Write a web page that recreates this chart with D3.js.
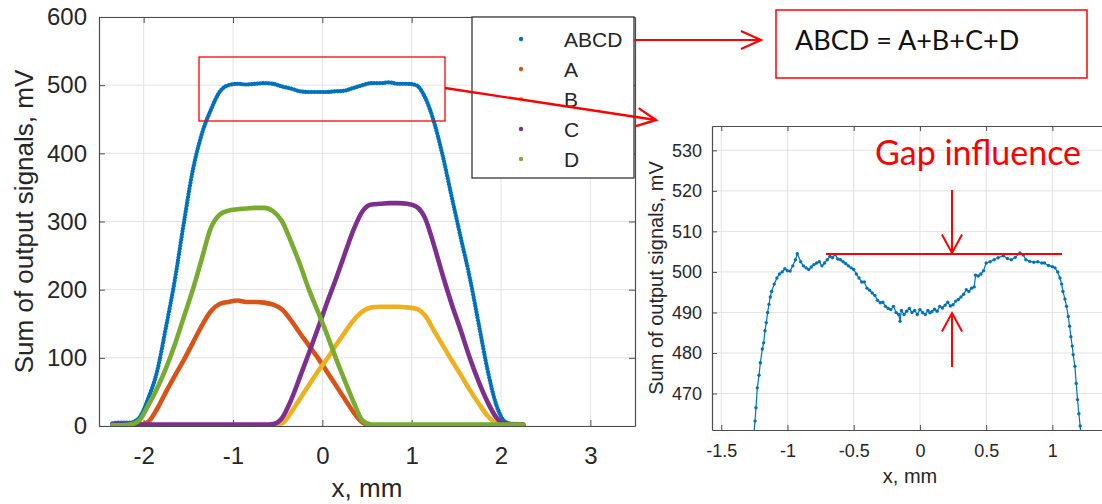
<!DOCTYPE html>
<html>
<head>
<meta charset="utf-8">
<script src="https://cdn.jsdelivr.net/npm/d3@7"></script>
<style>
  body { margin: 0; background: #fff; }
  svg { display: block; }
</style>
</head>
<body>
<div id="chart"></div>
<script>
// ---- data ----
const mainX = [-2.35, -2.25, -2.15, -2.05, -1.95, -1.85, -1.75, -1.65, -1.55, -1.45, -1.35, -1.25,
  -1.15, -1.05, -0.95, -0.85, -0.75, -0.65, -0.55, -0.45, -0.35, -0.25, -0.15, -0.05,
  0.05, 0.15, 0.25, 0.35, 0.45, 0.55, 0.65, 0.75, 0.85, 0.95, 1.05, 1.15,
  1.25, 1.35, 1.45, 1.55, 1.65, 1.75, 1.85, 1.95, 2.05, 2.15, 2.25];

const sumABCD = [4, 5, 5, 12, 40, 80, 145, 215, 298, 375, 428, 463,
  490, 500, 502, 501, 502, 503, 502, 498, 495, 491, 490, 490,
  490, 491, 492, 496, 500, 503, 503, 504, 502, 502, 500, 482,
  446, 395, 335, 276, 218, 150, 82, 30, 6, 3, 3];
const sigA = [1, 1, 1, 2, 6, 25, 50, 74, 97, 122, 147, 168,
  179, 182, 184, 182, 182, 181, 178, 171, 155, 136, 118, 100,
  80, 60, 40, 20, 5, 1, 1, 1, 1, 1, 1, 1,
  1, 1, 1, 1, 1, 1, 1, 1, 1, 1, 1];
const sigB = [1, 1, 1, 1, 1, 1, 1, 1, 1, 1, 1, 1,
  1, 1, 1, 1, 1, 1, 1, 4, 20, 40, 60, 80,
  98, 118, 137, 155, 168, 174, 175, 175, 175, 174, 172, 162,
  140, 118, 96, 75, 53, 33, 15, 4, 2, 2, 2];
const sigC = [2, 2, 2, 2, 2, 2, 2, 2, 2, 2, 2, 2,
  2, 2, 2, 2, 2, 2, 3, 12, 38, 72, 107, 143,
  180, 215, 252, 288, 315, 325, 326, 327, 327, 326, 322, 305,
  265, 220, 178, 140, 100, 65, 35, 12, 3, 2, 2];
const sigD = [1, 1, 2, 8, 30, 55, 85, 120, 160, 200, 245, 290,
  310, 316, 318, 319, 320, 320, 315, 300, 270, 237, 200, 168,
  135, 100, 67, 35, 8, 2, 2, 2, 2, 2, 2, 2,
  2, 2, 2, 2, 2, 2, 2, 2, 2, 2, 2];

const seriesNames = ["ABCD", "A", "B", "C", "D"];
const seriesColors = ["#0072BD", "#D95319", "#EDB120", "#7E2F8E", "#77AC30"];
const mainXTicks = [-2, -1, 0, 1, 2, 3];
const mainYTicks = [0, 100, 200, 300, 400, 500, 600];

// zoomed plateau of ABCD
const insetX = [-1.26, -1.245, -1.238, -1.228, -1.215, -1.205, -1.19, -1.18, -1.17, -1.16, -1.15, -1.14,
  -1.13, -1.12, -1.10, -1.08, -1.06, -1.04, -1.02, -1.0, -0.98, -0.96, -0.94, -0.926,
  -0.90, -0.88, -0.86, -0.84, -0.82, -0.80, -0.78, -0.76, -0.74, -0.72, -0.70, -0.68,
  -0.66, -0.64, -0.62, -0.60, -0.58, -0.56, -0.54, -0.52, -0.50, -0.48, -0.46, -0.44,
  -0.42, -0.40, -0.38, -0.36, -0.34, -0.32, -0.30, -0.28, -0.26, -0.24, -0.22, -0.20,
  -0.18, -0.16, -0.15, -0.14, -0.12, -0.10, -0.08, -0.06, -0.04, -0.02, 0.0, 0.02,
  0.04, 0.06, 0.075, 0.09, 0.11, 0.13, 0.15, 0.17, 0.19, 0.21, 0.23, 0.25,
  0.27, 0.29, 0.31, 0.33, 0.35, 0.37, 0.39, 0.41, 0.42, 0.44, 0.46, 0.48,
  0.50, 0.53, 0.56, 0.59, 0.63, 0.66, 0.69, 0.72, 0.755, 0.78, 0.80, 0.83,
  0.86, 0.89, 0.92, 0.94, 0.97, 1.00, 1.02, 1.04, 1.057, 1.07, 1.08, 1.095,
  1.107, 1.12, 1.13, 1.14, 1.15, 1.157, 1.17, 1.18, 1.19, 1.20, 1.21, 1.22];
const insetY = [458, 463.2, 466.5, 471.4, 474.5, 477.6, 481, 482.5, 485.5, 487.5, 490, 492,
  493.8, 495.2, 497, 498.5, 499.5, 500, 500.8, 500.3, 500.2, 501.5, 503, 504.5,
  502.5, 501.5, 501, 500.6, 501.2, 501.8, 502.2, 502.5, 501.5, 502.2, 503, 503.8,
  503.5, 504.3, 503.2, 503, 502.5, 502, 501.5, 501, 500.6, 499.5, 498.5, 497.5,
  497.5, 496, 495.5, 494.8, 494.2, 493, 492.4, 492.5, 491.5, 491, 490.7, 491.5,
  490, 489.5, 487.8, 490.5, 489.5, 490.3, 491, 490, 490.5, 489.5, 490.7, 490,
  489.5, 490.5, 489.9, 490.2, 490.8, 490.3, 491.5, 491.1, 491.8, 492.5, 491.6, 491.9,
  492.8, 493.2, 493.8, 494.5, 495.6, 495.2, 496, 496.3, 499.2, 499, 499.5, 500.3,
  502.2, 502.5, 503, 503.5, 504, 503.3, 503, 503.6, 504.7, 504.2, 503, 502.6,
  502.4, 502.5, 502.2, 502.2, 501.6, 501.3, 501, 500, 498.5, 497, 495.2, 493.3,
  491.5, 489, 486.6, 484, 481.7, 479.6, 476.7, 472.5, 468.5, 465, 462, 458];
const insetXTicks = [-1.5, -1, -0.5, 0, 0.5, 1];
const insetYTicks = [470, 480, 490, 500, 510, 520, 530];

// ---- drawing ----
const W = 1102, H = 504;
const FONT = "'Liberation Sans', Arial, Helvetica, sans-serif";
const TXT = "#262626";
const GRID = "#e3e3e3";
const RED = "#ff0000";

const svg = d3.select("#chart").append("svg")
  .attr("width", W).attr("height", H)
  .style("font-family", FONT);

function drawAxesFrame(g, x, y, box, xTicks, yTicks, opt) {
  // grid
  g.append("g").selectAll("line").data(xTicks).join("line")
    .attr("x1", d => x(d)).attr("x2", d => x(d))
    .attr("y1", box.top).attr("y2", box.bottom)
    .attr("stroke", GRID).attr("stroke-width", 1);
  g.append("g").selectAll("line").data(yTicks).join("line")
    .attr("x1", box.left).attr("x2", box.right)
    .attr("y1", d => y(d)).attr("y2", d => y(d))
    .attr("stroke", GRID).attr("stroke-width", 1);

  const fmt = d => String(d);
  const bottom = g.append("g").attr("transform", `translate(0,${box.bottom})`)
    .call(d3.axisBottom(x).tickValues(xTicks).tickFormat(fmt)
      .tickSize(-opt.tick).tickSizeOuter(0).tickPadding(opt.xPad));
  const top = g.append("g").attr("transform", `translate(0,${box.top})`)
    .call(d3.axisTop(x).tickValues(xTicks).tickFormat("")
      .tickSize(-opt.tick).tickSizeOuter(0));
  const left = g.append("g").attr("transform", `translate(${box.left},0)`)
    .call(d3.axisLeft(y).tickValues(yTicks).tickFormat(fmt)
      .tickSize(-opt.tick).tickSizeOuter(0).tickPadding(opt.yPad));
  const right = g.append("g").attr("transform", `translate(${box.right},0)`)
    .call(d3.axisRight(y).tickValues(yTicks).tickFormat("")
      .tickSize(-opt.tick).tickSizeOuter(0));

  [bottom, top, left, right].forEach(a => {
    a.select(".domain").attr("stroke", "#4d4d4d").attr("stroke-width", 1.2);
    a.selectAll(".tick line").attr("stroke", "#4d4d4d");
    a.selectAll("text").attr("fill", TXT).attr("font-size", opt.font)
      .attr("font-family", FONT);
  });
}

// main chart
const mBox = { left: 99, right: 635, top: 17, bottom: 426 };
const mx = d3.scaleLinear().domain([-2.5, 3.5]).range([mBox.left, mBox.right]);
const my = d3.scaleLinear().domain([0, 600]).range([mBox.bottom, mBox.top]);
const mainG = svg.append("g");

drawAxesFrame(mainG, mx, my, mBox, mainXTicks, mainYTicks,
  { tick: 6, xPad: 21, yPad: 12, font: 24 });

svg.append("clipPath").attr("id", "mclip").append("rect")
  .attr("x", mBox.left).attr("y", mBox.top)
  .attr("width", mBox.right - mBox.left).attr("height", mBox.bottom - mBox.top);

const mainSeries = [sumABCD, sigA, sigB, sigC, sigD];
const mline = d3.line().x((d, i) => mx(mainX[i])).y(d => my(d)).curve(d3.curveMonotoneX);
const mPlot = mainG.append("g").attr("clip-path", "url(#mclip)");
// ABCD is a dense scatter: thin core line + chain of round dots
mPlot.append("path").attr("d", mline(sumABCD))
  .attr("fill", "none").attr("stroke", seriesColors[0]).attr("stroke-width", 2.4);
mPlot.append("path").attr("d", mline(sumABCD))
  .attr("fill", "none").attr("stroke", seriesColors[0]).attr("stroke-width", 4.2)
  .attr("stroke-linecap", "round").attr("stroke-dasharray", "0.1 2.8");
mPlot.selectAll("path.sig").data(mainSeries.slice(1)).join("path")
  .attr("class", "sig")
  .attr("d", d => mline(d))
  .attr("fill", "none")
  .attr("stroke", (d, i) => seriesColors[i + 1])
  .attr("stroke-width", 4.6)
  .attr("stroke-linejoin", "round").attr("stroke-linecap", "round");

// axis labels
mainG.append("text").attr("x", (mBox.left + mBox.right) / 2).attr("y", 497)
  .attr("text-anchor", "middle").attr("font-size", 26).attr("fill", TXT)
  .text("x, mm");
mainG.append("text")
  .attr("transform", `translate(33,${(mBox.top + mBox.bottom) / 2}) rotate(-90)`)
  .attr("text-anchor", "middle").attr("font-size", 26).attr("fill", TXT)
  .text("Sum of output signals, mV");

// legend
const leg = mainG.append("g");
leg.append("rect").attr("x", 472).attr("y", 17).attr("width", 162).attr("height", 161)
  .attr("fill", "#fff").attr("stroke", "#262626").attr("stroke-width", 1.2);
const legRows = leg.selectAll("g.row").data(seriesNames).join("g")
  .attr("class", "row").attr("transform", (d, i) => `translate(0,${39 + i * 30})`);
legRows.append("circle").attr("cx", 521).attr("cy", 0).attr("r", 2.2)
  .attr("fill", (d, i) => seriesColors[i]);
legRows.append("text").attr("x", 564).attr("y", 0).attr("dy", "0.36em")
  .attr("font-size", 21).attr("fill", TXT).text(d => d);

// inset chart
const iBox = { left: 712, right: 1108, top: 126, bottom: 430 };
const ix = d3.scaleLinear().domain([-1.57, 1.42]).range([iBox.left, iBox.right]);
const iy = d3.scaleLinear().domain([461, 536]).range([iBox.bottom, iBox.top]);
const insetG = svg.append("g");

drawAxesFrame(insetG, ix, iy, iBox, insetXTicks, insetYTicks,
  { tick: 5, xPad: 14, yPad: 10, font: 18 });

svg.append("clipPath").attr("id", "iclip").append("rect")
  .attr("x", iBox.left).attr("y", iBox.top)
  .attr("width", iBox.right - iBox.left).attr("height", iBox.bottom - iBox.top);

const iline = d3.line().x((d, i) => ix(insetX[i])).y(d => iy(d));
const iPlot = insetG.append("g").attr("clip-path", "url(#iclip)");
iPlot.append("path").attr("d", iline(insetY))
  .attr("fill", "none").attr("stroke", "#0072BD").attr("stroke-width", 1.2);
iPlot.selectAll("circle").data(insetY).join("circle")
  .attr("cx", (d, i) => ix(insetX[i])).attr("cy", d => iy(d)).attr("r", 1.7)
  .attr("fill", "#0072BD");

insetG.append("text").attr("x", 910).attr("y", 483)
  .attr("text-anchor", "middle").attr("font-size", 20).attr("fill", TXT)
  .text("x, mm");
insetG.append("text")
  .attr("transform", `translate(663,${(iBox.top + iBox.bottom) / 2}) rotate(-90)`)
  .attr("text-anchor", "middle").attr("font-size", 20).attr("fill", TXT)
  .text("Sum of output signals, mV");

// ---- red annotations ----
const ann = svg.append("g").attr("fill", "none").attr("stroke", RED);

ann.append("rect").attr("x", 199).attr("y", 57).attr("width", 246).attr("height", 64)
  .attr("stroke-width", 1.3);

function arrow(x1, y1, x2, y2, head, spread, sw) {
  const a = Math.atan2(y2 - y1, x2 - x1);
  ann.append("line").attr("x1", x1).attr("y1", y1).attr("x2", x2).attr("y2", y2)
    .attr("stroke-width", sw);
  const pts = [a + Math.PI - spread, a + Math.PI + spread].map(b =>
    [x2 + head * Math.cos(b), y2 + head * Math.sin(b)]);
  ann.append("path")
    .attr("d", `M${pts[0][0]},${pts[0][1]}L${x2},${y2}L${pts[1][0]},${pts[1][1]}`)
    .attr("stroke-width", sw).attr("stroke-linejoin", "miter");
}

arrow(445, 88, 656, 120, 21, 0.45, 2.4);
arrow(634, 40, 761, 40, 22, 0.42, 2.2);

ann.append("rect").attr("x", 776).attr("y", 10).attr("width", 311).attr("height", 68)
  .attr("stroke-width", 1.5);
svg.append("text").attr("x", 795).attr("y", 50)
  .attr("font-family", "Lato, 'Open Sans', sans-serif").attr("font-size", 27)
  .attr("fill", "#111").text("ABCD = A+B+C+D");

// gap influence
svg.append("text").attr("x", 875).attr("y", 165)
  .attr("font-family", "Lato, 'Open Sans', sans-serif").attr("font-size", 34)
  .attr("fill", RED).text("Gap influence");
ann.append("line").attr("x1", 826).attr("x2", 1062).attr("y1", 254).attr("y2", 254)
  .attr("stroke-width", 2);
arrow(952, 190, 952, 253, 21, 0.5, 2);
arrow(952, 367, 952, 313, 21, 0.5, 2);
</script>
</body>
</html>
